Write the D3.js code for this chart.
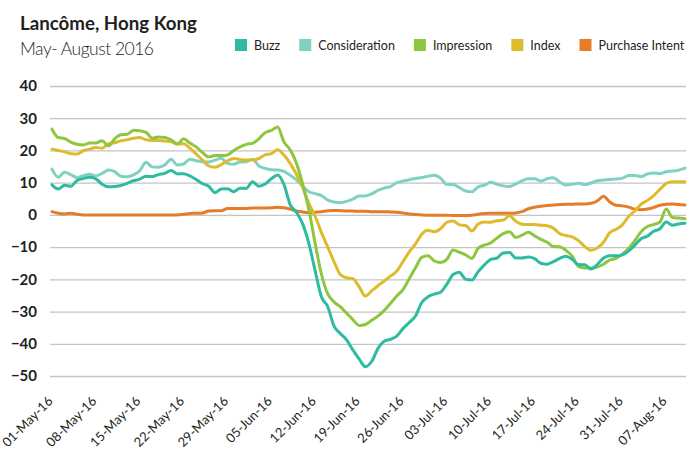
<!DOCTYPE html>
<html>
<head>
<meta charset="utf-8">
<script src="https://cdn.jsdelivr.net/npm/d3@7"></script>
<style>
  html, body { margin: 0; padding: 0; background: #fff; }
  svg { display: block; font-family: Lato, "Open Sans", sans-serif; }
</style>
</head>
<body>
<svg id="chart" width="700" height="452"></svg>
<script>
// ---------- DATA ----------
const startDate = "2016-05-01";
const dayCount = 102; // 01-May-16 .. 10-Aug-16, daily

const seriesNames = ["Buzz", "Consideration", "Impression", "Index", "Purchase Intent"];
const seriesColors = ["#2dbba1", "#7fd1c1", "#8dc63f", "#debb2c", "#e67c26"];

const buzz = [9.3, 8.0, 9.2, 8.9, 10.7, 11.3, 11.7, 11.2, 9.5, 8.7,
  8.8, 9.1, 9.8, 10.6, 11.1, 12.0, 11.9, 12.5, 12.9, 13.8,
  12.7, 12.8, 12.1, 11.0, 9.7, 8.9, 6.9, 8.0, 8.1, 7.2,
  8.3, 8.2, 10.3, 8.9, 9.6, 11.2, 12.4, 9.5, 3.2, 0.8,
  -2.8, -9.0, -17.5, -25.5, -28.5, -34.5, -36.8, -38.8, -41.9, -44.7,
  -47.1, -45.5, -41.5, -39.2, -38.6, -37.6, -35.3, -33.4, -31.4, -27.2,
  -25.4, -24.6, -24.0, -21.5, -18.5, -17.8, -20.0, -20.2, -17.6, -15.5,
  -13.8, -13.4, -11.8, -11.7, -13.4, -13.4, -13.1, -13.6, -15.0, -15.3,
  -14.5, -13.5, -12.8, -13.8, -15.4, -15.5, -16.8, -15.4, -13.4, -12.7,
  -12.7, -12.4, -11.2, -9.4, -7.4, -6.6, -5.1, -4.3, -2.2, -3.2,
  -2.8, -2.6];

const consideration = [14.2, 11.7, 13.2, 12.5, 11.6, 12.2, 12.6, 12.1, 12.9, 13.9,
  13.4, 12.0, 11.8, 12.4, 13.7, 16.3, 14.9, 14.8, 15.5, 17.3,
  15.5, 15.8, 17.3, 16.8, 16.5, 16.4, 17.0, 17.6, 16.0, 15.7,
  16.4, 16.5, 17.3, 15.2, 14.4, 14.0, 13.9, 13.5, 12.3, 10.9,
  8.9, 7.2, 6.6, 6.0, 4.6, 4.0, 3.8, 4.2, 4.9, 5.9,
  5.9, 6.5, 7.6, 8.3, 8.8, 10.0, 10.5, 10.9, 11.3, 11.6,
  12.0, 12.3, 11.4, 9.4, 9.4, 8.5, 7.4, 7.2, 8.7, 9.2,
  10.1, 9.5, 9.0, 8.8, 9.6, 10.6, 11.2, 11.2, 10.5, 11.2,
  11.5, 10.2, 9.3, 9.5, 9.8, 9.4, 9.9, 10.6, 10.8, 11.0,
  11.1, 11.4, 12.2, 12.2, 11.9, 12.7, 13.0, 12.8, 13.4, 13.6,
  13.9, 14.5];

const impression = [26.6, 24.0, 23.7, 22.6, 21.9, 21.7, 22.3, 22.3, 23.0, 21.4,
  23.6, 24.9, 25.0, 26.3, 26.1, 25.6, 23.8, 24.2, 24.0, 23.3,
  22.0, 23.6, 22.3, 21.1, 19.4, 18.0, 18.4, 18.4, 18.6, 20.0,
  21.1, 21.9, 22.2, 23.6, 25.5, 26.2, 27.3, 22.7, 20.2, 16.0,
  9.5, 1.5, -9.0, -18.5, -24.5, -27.0, -28.5, -30.5, -32.5, -34.3,
  -34.0, -32.7, -31.4, -29.7, -27.5, -25.2, -23.2, -19.8, -16.4, -13.2,
  -12.7, -14.3, -14.8, -13.8, -10.9, -11.6, -12.4, -13.5, -10.3, -9.4,
  -8.7, -7.2, -5.8, -5.2, -7.0, -6.3, -5.4, -6.5, -7.6, -8.5,
  -9.8, -9.9, -11.0, -12.8, -16.0, -16.5, -16.5, -16.2, -15.3, -14.0,
  -13.5, -12.2, -10.4, -8.0, -5.2, -3.6, -3.0, -2.2, 1.8, -0.8,
  -1.0, -1.2];

const indexValues = [20.4, 20.0, 19.6, 19.0, 18.9, 19.9, 20.4, 20.9, 20.7, 22.1,
  22.4, 23.0, 23.3, 23.8, 24.0, 23.3, 23.1, 23.1, 22.9, 22.7,
  22.0, 22.1, 20.7, 18.9, 17.0, 15.2, 14.8, 15.6, 16.8, 17.5,
  17.2, 17.0, 17.0, 17.5, 18.6, 19.0, 20.2, 18.6, 16.0, 12.6,
  8.5, 3.5, -0.5, -5.5, -10.0, -14.5, -18.5, -19.5, -19.8, -22.3,
  -25.2, -23.6, -22.0, -20.5, -19.0, -17.5, -14.5, -11.5, -9.0, -6.0,
  -4.8, -5.2, -4.3, -2.3, -1.9, -3.1, -3.3, -5.0, -2.8, -2.2,
  -2.3, -1.8, -1.6, -0.3, -2.0, -2.9, -3.0, -3.0, -3.2, -3.4,
  -4.1, -5.8, -6.4, -6.8, -8.0, -9.8, -11.0, -10.3, -8.5, -5.5,
  -4.5, -3.1, -0.5, 1.2, 3.3, 4.5, 6.0, 7.9, 9.8, 10.3,
  10.3, 10.3];

const purchaseIntent = [1.0, 0.5, 0.3, 0.5, 0.2, 0.0, 0.0, 0.0, 0.0, 0.0,
  0.0, 0.0, 0.0, 0.0, 0.0, 0.0, 0.0, 0.0, 0.0, 0.0,
  0.0, 0.2, 0.4, 0.5, 0.6, 1.2, 1.3, 1.3, 2.0, 2.0,
  2.0, 2.0, 2.1, 2.1, 2.1, 2.2, 2.4, 2.2, 1.8, 1.2,
  0.9, 0.7, 0.8, 1.0, 1.3, 1.4, 1.3, 1.2, 1.2, 1.1,
  1.1, 1.0, 1.0, 1.0, 0.9, 0.8, 0.6, 0.3, 0.1, 0.0,
  -0.1, -0.1, -0.1, -0.1, -0.2, -0.2, -0.2, -0.1, 0.2, 0.4,
  0.5, 0.5, 0.5, 0.5, 0.6, 1.0, 1.9, 2.4, 2.7, 2.9,
  3.1, 3.2, 3.3, 3.3, 3.4, 3.4, 3.6, 4.3, 5.8, 4.0,
  3.0, 2.8, 2.4, 1.8, 1.6, 1.8, 2.3, 3.0, 3.3, 3.4,
  3.2, 3.1];

const tickLabels = ["01-May-16", "08-May-16", "15-May-16", "22-May-16", "29-May-16",
  "05-Jun-16", "12-Jun-16", "19-Jun-16", "26-Jun-16", "03-Jul-16",
  "10-Jul-16", "17-Jul-16", "24-Jul-16", "31-Jul-16", "07-Aug-16"];
const yTicks = [40, 30, 20, 10, 0, -10, -20, -30, -40, -50];

// ---------- BUILD ----------
const parseDay = d3.timeParse("%Y-%m-%d");
const parseTick = d3.timeParse("%d-%b-%y");
const day0 = parseDay(startDate);
const dates = d3.timeDay.range(day0, d3.timeDay.offset(day0, dayCount));
const seriesValues = [buzz, consideration, impression, indexValues, purchaseIntent];

const svg = d3.select("#chart");

const x = d3.scaleTime()
  .domain([dates[0], dates[dates.length - 1]])
  .range([52, 685]);
const y = d3.scaleLinear().domain([-50, 40]).range([376, 86]);

// title
svg.append("text").attr("x", 20).attr("y", 30)
  .attr("font-size", 18.7).attr("font-weight", 700).attr("fill", "#231f20")
  .text("Lancôme, Hong Kong");
svg.append("text").attr("x", 20).attr("y", 55)
  .attr("font-size", 17.5).attr("font-weight", 300).attr("fill", "#231f20")
  .attr("letter-spacing", -0.5)
  .text("May- August 2016");

// gridlines + y labels via axis
const yAxis = d3.axisLeft(y).tickValues(yTicks).tickSize(-(686 - 50)).tickPadding(13);
const gy = svg.append("g").attr("transform", "translate(50,0)").call(yAxis);
gy.select(".domain").remove();
gy.selectAll(".tick line").attr("stroke", "#c4c4c4").attr("stroke-width", 1.3);
gy.selectAll(".tick text")
  .attr("font-family", "Lato, sans-serif")
  .attr("font-size", 15).attr("font-weight", 700).attr("fill", "#231f20");

// x labels via axis
const tickDates = tickLabels.map(parseTick);
const xAxis = d3.axisBottom(x).tickValues(tickDates).tickSize(0)
  .tickFormat((d, i) => tickLabels[i]);
const gx = svg.append("g").attr("transform", "translate(0,376)").call(xAxis);
gx.select(".domain").remove();
gx.selectAll(".tick text")
  .attr("font-family", "Lato, sans-serif")
  .attr("font-size", 13).attr("font-weight", 400).attr("fill", "#231f20")
  .attr("text-anchor", "end")
  .attr("x", 0).attr("y", 0).attr("dy", 0)
  .attr("transform", "translate(1,26) rotate(-45)");

// lines
const line = d3.line()
  .x((d, i) => x(dates[i]))
  .y(d => y(d))
  .curve(d3.curveMonotoneX);

const drawOrder = [1, 4, 3, 2, 0];
drawOrder.forEach(k => {
  svg.append("path")
    .datum(seriesValues[k])
    .attr("fill", "none")
    .attr("stroke", seriesColors[k])
    .attr("stroke-width", 3)
    .attr("stroke-linejoin", "round")
    .attr("stroke-linecap", "round")
    .attr("d", line);
});

// legend
const legend = svg.append("g");
let lx = 235;
seriesNames.forEach((name, i) => {
  legend.append("rect").attr("x", lx).attr("y", 39).attr("width", 12).attr("height", 12)
    .attr("fill", seriesColors[i]);
  const t = legend.append("text").attr("x", lx + 19).attr("y", 50)
    .attr("font-size", 12.5).attr("fill", "#231f20").text(name);
  lx += 19 + t.node().getComputedTextLength() + 19;
});
</script>
</body>
</html>
